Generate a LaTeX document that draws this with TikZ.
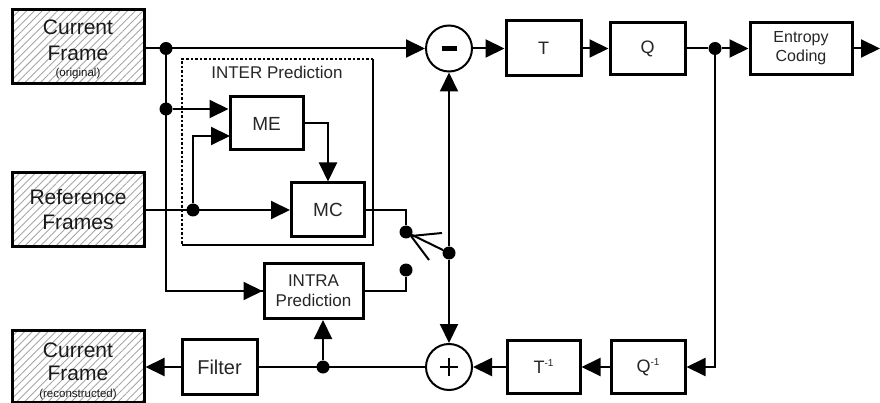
\documentclass[tikz,border=0pt]{standalone}
\usepackage{fontspec}
\setmainfont{Liberation Sans}
\usetikzlibrary{arrows.meta,patterns.meta,calc}
\begin{document}
\begin{tikzpicture}[x=1pt,y=-1pt,
  conn/.style={line width=2pt},
  arr/.style={conn,-{Triangle[length=19pt,width=18pt]}},
  blk/.style={draw,line width=3pt,inner sep=0pt,fill=white,text=black!85,align=center},
  hatchbox/.style={draw,line width=3pt,inner sep=0pt,minimum width=132pt,
    pattern={Lines[angle=45,distance=5.5pt,line width=0.9pt]},pattern color=black!35},
  jdot/.style={circle,fill,inner sep=0pt,minimum size=13pt},
  sumc/.style={circle,draw,line width=2pt,minimum size=46pt,inner sep=0pt,fill=white},
  bigt/.style={font=\fontsize{21}{25}\selectfont,text=black!90,inner sep=0pt},
  smallt/.style={font=\fontsize{11.5}{12}\selectfont,text=black!90,inner sep=0pt},
]
\useasboundingbox (0,0) rectangle (880,403);

% hatched source/sink boxes
\node[hatchbox,minimum height=74pt] (cf) at (78,47) {};
\node[bigt,anchor=base] (cft1) at (78,35) {Current};
\node[bigt,anchor=base] (cft2) at (78,61) {Frame};
\node[smallt,anchor=base] (cft3) at (78,77) {(original)};

\node[hatchbox,minimum height=74pt] (rf) at (78,210) {};
\node[bigt,anchor=base] (rft1) at (78,205) {Reference};
\node[bigt,anchor=base] (rft2) at (78,230) {Frames};

\node[hatchbox,minimum height=72pt] (cfr) at (78,366) {};
\node[bigt,anchor=base] (crt1) at (78,357) {Current};
\node[bigt,anchor=base] (crt2) at (78,380) {Frame};
\node[smallt,anchor=base] (crt3) at (78,397) {(reconstructed)};

% blocks
\node[sumc] (minus) at (449,48.5) {\rule{15pt}{5pt}};
\node[blk,minimum width=75pt,minimum height=55pt,font=\fontsize{18}{21}\selectfont] (T) at (543.5,48.5) {T};
\node[blk,minimum width=75pt,minimum height=52pt,font=\fontsize{18}{21}\selectfont] (Q) at (647.5,48.5) {Q};
\node[blk,minimum width=102pt,minimum height=52pt,font=\fontsize{16}{19}\selectfont] (EC) at (801,48.5) {Entropy\\Coding};
\coordinate (out) at (880,48.5);

\node[blk,minimum width=73pt,minimum height=53pt,font=\fontsize{19}{22}\selectfont] (ME) at (266.5,123.5) {ME};
\node[blk,minimum width=73pt,minimum height=54pt,font=\fontsize{19}{22}\selectfont] (MC) at (328,210) {MC};
\node[blk,minimum width=99pt,minimum height=55pt,font=\fontsize{17}{20}\selectfont] (INTRA) at (313.5,291) {INTRA\\Prediction};

\node[sumc] (plus) at (449,367) {};
\draw[line width=2pt] ($(plus)+(-9,0)$) -- ($(plus)+(9,0)$);
\draw[line width=2pt] ($(plus)+(0,-9)$) -- ($(plus)+(0,9)$);

\node[blk,minimum width=73pt,minimum height=53pt,font=\fontsize{18}{21}\selectfont] (Ti) at (543.5,367) {T\raisebox{7pt}{\fontsize{10}{10}\selectfont -1}};
\node[blk,minimum width=74pt,minimum height=53pt,font=\fontsize{18}{21}\selectfont] (Qi) at (648,367) {Q\raisebox{7pt}{\fontsize{10}{10}\selectfont -1}};
\node[blk,minimum width=75pt,minimum height=55pt,font=\fontsize{20}{23}\selectfont] (Filter) at (219.5,367) {Filter};

% INTER prediction frame
\coordinate (ib1) at (182,59);
\coordinate (ib2) at (373,59);
\coordinate (ib3) at (373,245);
\coordinate (ib4) at (182,245);
\draw[line width=2.5pt,dash pattern=on 2.5pt off 2pt] (ib2) -- (ib1) -- (ib4);
\draw[line width=2.5pt] (ib4) -- (ib3) -- (ib2);
\node[font=\fontsize{17}{20}\selectfont,text=black!85,anchor=base,inner sep=0pt] (intert) at (277,79) {INTER Prediction};

% junctions and switch
\node[jdot] (j1) at (166,48.5) {};
\node[jdot] (j2) at (166,109) {};
\node[jdot] (j3) at (193,210) {};
\node[jdot] (j4) at (449,253) {};
\node[jdot] (j5) at (323,367) {};
\node[jdot] (j6) at (715,48.5) {};
\node[jdot] (sw1) at (406,232) {};
\node[jdot] (sw2) at (406,270) {};
\coordinate (swc) at (411,236);
\coordinate (swa) at (442,233);
\coordinate (swb) at (429,260);
\coordinate (mein2) at (230,136);

% connectors
\draw[arr] (cf.east |- minus.west) -- (minus.west);
\draw[conn] (j1) |- (INTRA.west);
\draw[arr] (j1 |- INTRA.west) -- (INTRA.west);
\draw[arr] (j2) -- (j2 -| ME.west);
\draw[arr] (rf.east) -- (MC.west);
\draw[arr] (j3) |- (mein2);
\draw[arr] (ME.east) -| (MC.north);
\draw[conn] (MC.east) -| (sw1);
\draw[conn] (INTRA.east) -| (sw2);
\draw[conn] (sw1) -- (j4);
\draw[conn] (swc) -- (swa);
\draw[conn] (swc) -- (swb);
\draw[arr] (j4) -- (minus.south);
\draw[arr] (j4) -- (plus.north);
\draw[arr] (minus.east) -- (T.west);
\draw[arr] (T.east) -- (Q.west);
\draw[conn] (Q.east) -- (j6);
\draw[arr] (j6) -- (EC.west);
\draw[arr] (EC.east) -- (out);
\draw[arr] (j6) |- (Qi.east);
\draw[arr] (Qi.west) -- (Ti.east);
\draw[arr] (Ti.west) -- (plus.east);
\draw[conn] (plus.west) -- (Filter.east);
\draw[arr] (j5) -- (j5 |- INTRA.south);
\draw[arr] (Filter.west) -- (cfr.east |- Filter.west);
\end{tikzpicture}
\end{document}
